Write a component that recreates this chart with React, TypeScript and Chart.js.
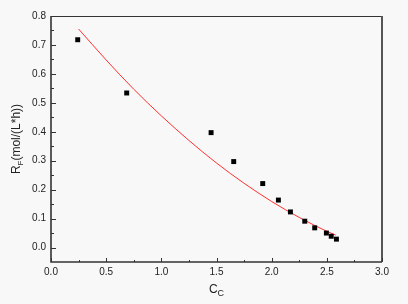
import React, { useEffect, useRef } from "react";
import { Chart, registerables } from "chart.js";

Chart.register(...registerables);

const measuredX = [0.242, 0.686, 1.451, 1.656, 1.919, 2.061, 2.17, 2.3, 2.39, 2.496, 2.54, 2.587];
const measuredY = [0.718, 0.534, 0.397, 0.297, 0.221, 0.164, 0.123, 0.091, 0.068, 0.05, 0.039, 0.029];

const fitX = [0.25, 0.5, 0.75, 1.0, 1.25, 1.5, 1.75, 2.0, 2.25, 2.5, 2.58];
const fitY = [0.755, 0.648, 0.547, 0.455, 0.37, 0.292, 0.222, 0.159, 0.104, 0.056, 0.043];

const xMajorTicks = [0, 0.5, 1.0, 1.5, 2.0, 2.5, 3.0];
const xMinorTicks = [0.25, 0.75, 1.25, 1.75, 2.25, 2.75];
const yMajorTicks = [0.0, 0.1, 0.2, 0.3, 0.4, 0.5, 0.6, 0.7, 0.8];
const yMinorTicks = [0.05, 0.15, 0.25, 0.35, 0.45, 0.55, 0.65, 0.75];

const FONT = "'Liberation Sans', Arial, sans-serif";

const framePlugin = {
  id: "frame",
  afterDraw(chart: any) {
    const ctx = chart.ctx;
    const { left, right, top, bottom } = chart.chartArea;
    const xs = chart.scales.x;
    const ys = chart.scales.y;
    ctx.save();
    // frame
    ctx.strokeStyle = "#333333";
    ctx.lineWidth = 1;
    ctx.beginPath();
    ctx.moveTo(left, top + 0.5);
    ctx.lineTo(right, top + 0.5);
    ctx.stroke();
    ctx.strokeStyle = "#555555";
    ctx.lineWidth = 2;
    ctx.beginPath();
    ctx.moveTo(right, top);
    ctx.lineTo(right, bottom);
    ctx.stroke();
    ctx.strokeStyle = "#333333";
    ctx.lineWidth = 1.6;
    ctx.beginPath();
    ctx.moveTo(left, top);
    ctx.lineTo(left, bottom);
    ctx.lineTo(right, bottom);
    ctx.stroke();
    // ticks
    ctx.lineWidth = 1;
    ctx.strokeStyle = "#333333";
    ctx.beginPath();
    xMajorTicks.forEach((v) => {
      const px = Math.round(xs.getPixelForValue(v)) + 0.5;
      ctx.moveTo(px, bottom);
      ctx.lineTo(px, bottom - 4);
    });
    xMinorTicks.forEach((v) => {
      const px = Math.round(xs.getPixelForValue(v)) + 0.5;
      ctx.moveTo(px, bottom);
      ctx.lineTo(px, bottom - 2);
    });
    yMajorTicks.forEach((v) => {
      const py = Math.round(ys.getPixelForValue(v)) + 0.5;
      ctx.moveTo(left, py);
      ctx.lineTo(left + 5, py);
    });
    yMinorTicks.forEach((v) => {
      const py = Math.round(ys.getPixelForValue(v)) + 0.5;
      ctx.moveTo(left, py);
      ctx.lineTo(left + 3, py);
    });
    ctx.stroke();
    // tick labels
    ctx.fillStyle = "#222222";
    ctx.font = `10px ${FONT}`;
    ctx.textAlign = "center";
    ctx.textBaseline = "middle";
    xMajorTicks.forEach((v) => {
      ctx.fillText(v.toFixed(1), xs.getPixelForValue(v), bottom + 10);
    });
    ctx.textAlign = "right";
    yMajorTicks.forEach((v) => {
      ctx.fillText(v.toFixed(1), left - 5, ys.getPixelForValue(v));
    });
    // x title C_C
    ctx.font = `12px ${FONT}`;
    ctx.textAlign = "left";
    ctx.textBaseline = "alphabetic";
    const cx = (left + right) / 2;
    const mainW = ctx.measureText("C").width;
    ctx.font = `9px ${FONT}`;
    const subW = ctx.measureText("C").width;
    const startX = cx - (mainW + subW) / 2;
    ctx.font = `12px ${FONT}`;
    ctx.fillText("C", startX, 293);
    ctx.font = `9px ${FONT}`;
    ctx.fillText("C", startX + mainW, 296);
    // y title R_F(mol/(L*h))
    ctx.save();
    ctx.translate(16, (top + bottom) / 2);
    ctx.rotate(-Math.PI / 2);
    ctx.font = `12px ${FONT}`;
    const rW = ctx.measureText("R").width;
    const restW = ctx.measureText("(mol/(L*h))").width;
    ctx.font = `8px ${FONT}`;
    const fW = ctx.measureText("F").width;
    const total = rW + fW + restW;
    let sx = -total / 2;
    ctx.font = `12px ${FONT}`;
    ctx.fillText("R", sx, 4);
    sx += rW;
    ctx.font = `8px ${FONT}`;
    ctx.fillText("F", sx, 7);
    sx += fW;
    ctx.font = `12px ${FONT}`;
    ctx.fillText("(mol/(L*h))", sx, 4);
    ctx.restore();
    ctx.restore();
  },
};

const bgPlugin = {
  id: "bg",
  beforeDraw(chart: any) {
    const ctx = chart.ctx;
    ctx.save();
    ctx.fillStyle = "#f8f8f8";
    ctx.fillRect(0, 0, chart.width, chart.height);
    ctx.restore();
  },
};

export default function App() {
  const ref = useRef<HTMLCanvasElement>(null);
  useEffect(() => {
    if (!ref.current) return;
    const chart = new Chart(ref.current, {
      type: "scatter",
      data: {
        datasets: [
          {
            type: "line",
            label: "fit",
            data: fitX.map((x, i) => ({ x, y: fitY[i] })),
            borderColor: "#ff3030",
            borderWidth: 1,
            pointRadius: 0,
            cubicInterpolationMode: "monotone",
            fill: false,
            order: 2,
          } as any,
          {
            label: "data",
            data: measuredX.map((x, i) => ({ x, y: measuredY[i] })),
            pointStyle: "rect",
            pointRadius: 3.5,
            backgroundColor: "#000000",
            borderColor: "#000000",
            borderWidth: 0,
            order: 1,
          },
        ],
      },
      options: {
        animation: false,
        responsive: false,
        layout: { padding: { left: 0, top: 16, right: 26, bottom: 0 } },
        plugins: { legend: { display: false }, tooltip: { enabled: false } },
        scales: {
          x: {
            type: "linear",
            min: 0,
            max: 3,
            grid: { display: false },
            border: { display: false },
            ticks: { display: false },
            afterFit: (s: any) => {
              s.height = 42;
            },
          },
          y: {
            type: "linear",
            min: -0.05,
            max: 0.8,
            grid: { display: false },
            border: { display: false },
            ticks: { display: false },
            afterFit: (s: any) => {
              s.width = 51;
            },
          },
        },
      },
      plugins: [bgPlugin, framePlugin],
    });
    return () => chart.destroy();
  }, []);
  return (
    <div style={{ position: "fixed", left: 0, top: 0, width: 408, height: 304 }}>
      <canvas ref={ref} width={408} height={304} style={{ width: 408, height: 304 }} />
    </div>
  );
}
